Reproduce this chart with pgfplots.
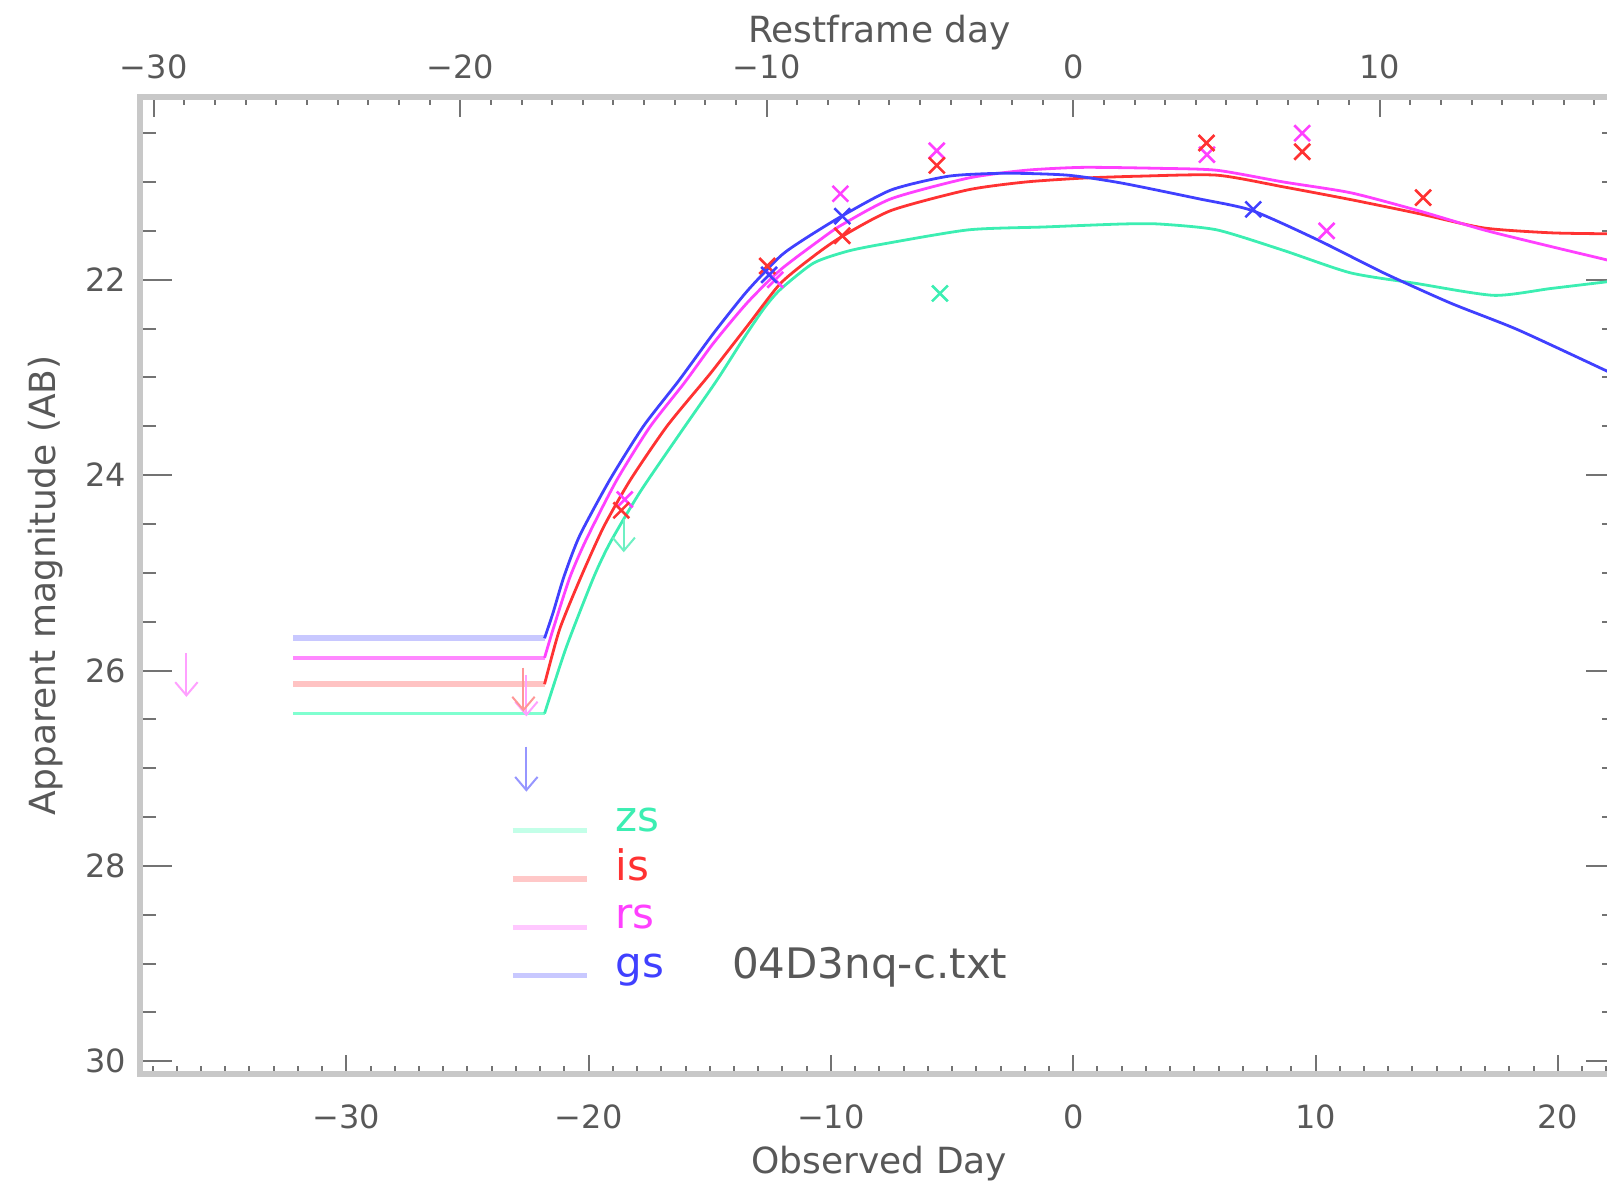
\documentclass[border=0pt]{standalone}
\usepackage{pgfplots}
\pgfplotsset{compat=1.18}
\usepackage{fontspec}
\setmainfont{DejaVu Sans}
\usetikzlibrary{arrows.meta}

\definecolor{zsC}{RGB}{60,238,178}
\definecolor{isC}{RGB}{255,50,50}
\definecolor{rsC}{RGB}{255,64,255}
\definecolor{gsC}{RGB}{64,64,255}
\definecolor{zsFlat}{RGB}{128,255,208}
\definecolor{isFlat}{RGB}{255,195,195}
\definecolor{rsFlat}{RGB}{255,136,255}
\definecolor{gsFlat}{RGB}{200,200,255}
\definecolor{zsLeg}{RGB}{195,255,232}
\definecolor{isLeg}{RGB}{255,200,200}
\definecolor{rsLeg}{RGB}{255,200,255}
\definecolor{gsLeg}{RGB}{200,200,255}
\definecolor{rsArr}{RGB}{255,160,255}
\definecolor{isArr}{RGB}{255,150,150}
\definecolor{gsArr}{RGB}{150,150,255}
\definecolor{zsArr}{RGB}{110,240,195}
\definecolor{axgray}{RGB}{200,200,200}
\definecolor{tickgray}{RGB}{115,115,115}
\definecolor{txtgray}{RGB}{88,88,88}

\tikzset{
  lab/.style={font=\fontsize{8}{9.6}\selectfont, text=txtgray},
  tit/.style={font=\fontsize{9}{10.8}\selectfont, text=txtgray},
}
\pgfplotsset{
  geom/.style={scale only axis, width=369.5pt, height=244.25pt,
    at={(35.1pt,26.75pt)}, anchor=south west,
    axis line style={draw=axgray, line width=1.5pt},
    tick style={draw=tickgray, line width=0.5pt},
    tick align=inside},
  curve/.style={line width=0.7pt, forget plot, smooth, tension=0.4},
  xmk/.style={only marks, mark=x, mark size=2.8pt, mark options={line width=0.65pt}, forget plot},
  lim/.style={line width=0.5pt, forget plot, -{Straight Barb[length=3.3pt,width=5.6pt]},
    quiver={u=\thisrow{u}, v=\thisrow{v}}},
}

\begin{document}
\begin{tikzpicture}
\path[use as bounding box] (0,0) rectangle (401.75pt,295.25pt);

% bottom x axis (observed day)
\begin{axis}[geom, xmin=-38.5, xmax=22.5, ymin=0, ymax=1,
  hide y axis, axis x line*=bottom, tick align=inside,
  xtick={-30,-20,-10,0,10,20}, xticklabels={−30,−20,−10,0,10,20},
  minor xtick={-38,-37,...,22},
  major tick length=4.75pt, minor tick length=1.9pt,
  xticklabel style={lab, anchor=base, yshift=-13.6pt},
  xlabel={Observed Day},
  xlabel style={tit, at={(axis description cs:0.5,0)}, anchor=base, yshift=-24.9pt}]
\end{axis}

% top x axis (restframe day)
\begin{axis}[geom, xmin=-30.435, xmax=17.787, ymin=0, ymax=1,
  hide y axis, axis x line*=top, tick align=inside,
  xtick={-30,-20,-10,0,10}, xticklabels={−30,−20,−10,0,10},
  minor xtick={-30,-29,...,17},
  major tick length=5.1pt, minor tick length=2pt,
  xticklabel style={lab, anchor=base, yshift=4.6pt},
  xlabel={Restframe day},
  xlabel style={tit, at={(axis description cs:0.5,1)}, anchor=base, yshift=13.6pt}]
\end{axis}

% main axis with data
\begin{axis}[geom, xmin=-38.5, xmax=22.5, ymin=20.13, ymax=30.13, y dir=reverse,
  xtick=\empty,
  ytick={22,24,26,28,30}, yticklabels={22,24,26,28,30},
  minor ytick={20.5,21,21.5,22.5,23,23.5,24.5,25,25.5,26.5,27,27.5,28.5,29,29.5},
  major tick length=8pt, minor tick length=4pt,
  yticklabel style={lab},
  ylabel={Apparent magnitude (AB)},
  ylabel style={tit, at={(axis description cs:0,0.5)}, anchor=base, yshift=21.25pt},
  legend style={at={(0.2501,0.2805)}, anchor=north west, draw=none, fill=none,
    inner sep=0pt, outer sep=0pt, row sep=1.6pt, column sep=6.6pt,
    font=\fontsize{10.5}{12}\selectfont,
    nodes={inner sep=0pt, text height=8pt, text depth=2.5pt}},
  legend cell align=left,
  legend image code/.code={\draw[#1] (0pt,-2.4pt) -- (18.5pt,-2.4pt);},
]

% flat pre-explosion segments
\addplot[color=zsFlat, line width=0.9pt, forget plot] coordinates {(-32.2,26.44) (-21.82,26.44)};
\addplot[color=isFlat, line width=1.4pt, forget plot] coordinates {(-32.2,26.14) (-21.82,26.14)};
\addplot[color=rsFlat, line width=0.9pt, forget plot] coordinates {(-32.2,25.87) (-21.82,25.87)};
\addplot[color=gsFlat, line width=1.4pt, forget plot] coordinates {(-32.2,25.67) (-21.82,25.67)};

% zs (green)
\addplot[color=zsC, curve] coordinates {
(-21.82,26.44) (-20.92,25.76) (-19.80,25.05) (-19.11,24.69) (-17.87,24.17)
(-16.22,23.57) (-14.71,23.03) (-13.60,22.60) (-12.78,22.30) (-12.09,22.10)
(-10.72,21.83) (-9.34,21.71) (-7.97,21.64) (-4.34,21.49) (-1.18,21.46)
(1.98,21.43) (3.55,21.43) (5.93,21.49) (8.68,21.70) (11.45,21.93)
(14.20,22.04) (17.36,22.16) (19.71,22.09) (22.07,22.02) (22.5,22.01)};

% is (red)
\addplot[color=isC, curve] coordinates {
(-21.82,26.14) (-21.20,25.58) (-20.33,25.05) (-19.38,24.53) (-18.28,24.05)
(-16.77,23.50) (-15.21,23.03) (-14.85,22.92) (-13.47,22.48) (-12.09,22.04)
(-10.72,21.76) (-9.56,21.56) (-7.50,21.29) (-4.34,21.08) (-1.97,21.00)
(0.40,20.96) (2.77,20.94) (5.93,20.93) (8.68,21.05) (11.45,21.18)
(14.20,21.32) (16.94,21.47) (19.71,21.52) (22.07,21.53) (22.5,21.53)};

% rs (magenta)
\addplot[color=rsC, curve] coordinates {
(-21.82,25.87) (-21.47,25.58) (-20.78,25.05) (-20.10,24.66) (-18.86,24.06)
(-17.48,23.51) (-16.03,23.05) (-14.85,22.65) (-13.47,22.24) (-12.09,21.90)
(-10.44,21.59) (-9.56,21.44) (-7.50,21.17) (-4.34,20.96) (-1.97,20.88)
(0.40,20.85) (3.56,20.86) (5.93,20.88) (8.68,21.00) (11.45,21.11)
(14.20,21.29) (16.94,21.49) (19.71,21.66) (22.07,21.80) (22.5,21.83)};

% gs (blue)
\addplot[color=gsC, curve] coordinates {
(-21.82,25.67) (-21.47,25.41) (-21.02,25.04) (-20.37,24.62) (-19.13,24.05)
(-17.74,23.50) (-16.27,23.03) (-14.85,22.55) (-13.47,22.12) (-12.09,21.76)
(-11.13,21.59) (-9.56,21.35) (-7.50,21.08) (-5.13,20.94) (-2.77,20.91)
(-0.23,20.93) (1.98,21.01) (5.15,21.17) (7.36,21.29) (10.07,21.59)
(12.81,21.93) (15.58,22.24) (18.33,22.51) (22.07,22.94) (22.5,22.99)};

% observed points
\addplot[xmk, color=zsC] coordinates {(-5.50,22.14)};
\addplot[xmk, color=rsC] coordinates {(-18.51,24.25) (-12.30,22.00) (-9.61,21.12) (-5.63,20.68) (5.52,20.72) (9.45,20.50) (10.46,21.50)};
\addplot[xmk, color=isC] coordinates {(-18.65,24.36) (-12.63,21.86) (-9.53,21.55) (-5.63,20.83) (5.50,20.60) (9.45,20.69) (14.44,21.16)};
\addplot[xmk, color=gsC] coordinates {(-12.55,21.95) (-9.53,21.35) (7.43,21.28)};

% upper limits (arrows)
\addplot[color=rsArr, lim] table {
x y u v
-36.6 25.82 0 0.45
-22.57 26.05 0 0.42
};
\addplot[color=isArr, lim] table {
x y u v
-22.69 25.97 0 0.45
};
\addplot[color=gsArr, lim] table {
x y u v
-22.57 26.78 0 0.46
};
\addplot[color=zsArr, lim] table {
x y u v
-18.55 24.45 0 0.34
};

\addlegendimage{color=zsLeg, line width=1.3pt}
\addlegendentry{\textcolor{zsC}{zs}}
\addlegendimage{color=isLeg, line width=1.3pt}
\addlegendentry{\textcolor{isC}{is}}
\addlegendimage{color=rsLeg, line width=1.3pt}
\addlegendentry{\textcolor{rsC}{rs}}
\addlegendimage{color=gsLeg, line width=1.3pt}
\addlegendentry{\textcolor{gsC}{gs}}

\node[anchor=base west, inner sep=0pt, font=\fontsize{10.5}{12}\selectfont, text=txtgray]
  at (axis cs:-14.11,29.155) {04D3nq-c.txt};
\end{axis}
\end{tikzpicture}
\end{document}
